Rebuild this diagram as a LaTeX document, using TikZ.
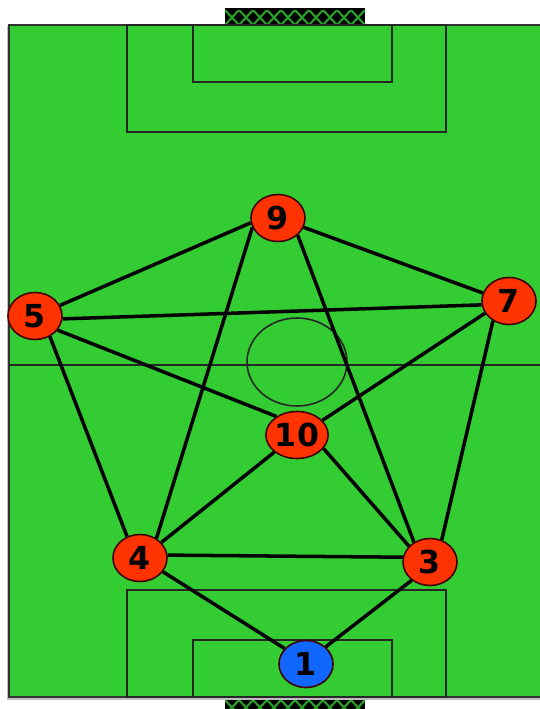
\documentclass[tikz,border=0pt]{standalone}
\usepackage{fontspec}
\newfontfamily\numfont{DejaVu Sans}
\usetikzlibrary{shapes.geometric}
\definecolor{pitch}{RGB}{51,204,51}
\definecolor{redp}{RGB}{255,51,0}
\definecolor{bluep}{RGB}{17,102,255}
\definecolor{netgreen}{RGB}{40,160,40}
\tikzset{
  player/.style={ellipse, draw=black!75!red, line width=0.45pt, inner sep=0pt,
    minimum width=0.54cm, minimum height=0.47cm,
    font=\numfont\bfseries\fontsize{9}{10}\selectfont},
  redplayer/.style={player, fill=redp},
  blueplayer/.style={player, fill=bluep},
  link/.style={line width=1pt, black},
  fieldline/.style={line width=0.45pt, black!85},
  netline/.style={line width=0.6pt, netgreen}
}
\begin{document}
\begin{tikzpicture}[x=0.01cm, y=-0.01cm]
\useasboundingbox (0,0) rectangle (539,709);
\fill[white] (0,0) rectangle (539,709);
% goals
\fill[black] (225,8) rectangle (365,25);
\begin{scope}
\clip (225,10) rectangle (365,25);
\foreach \i in {0,...,10}{
  \draw[netline] ({225+14*\i},10) -- ++(14,15);
  \draw[netline] ({239+14*\i},10) -- ++(-14,15);
}
\end{scope}
\fill[black] (225,697) rectangle (365,709);
\begin{scope}
\clip (225,697) rectangle (365,709);
\foreach \i in {0,...,10}{
  \draw[netline] ({225+14*\i},700) -- ++(14,15);
  \draw[netline] ({239+14*\i},700) -- ++(-14,15);
}
\end{scope}
% pitch
\draw[gray!50, line width=0.8pt] (8,26) -- (8,699) -- (545,699);
\fill[pitch] (9,25) rectangle (545,697);
\draw[black!80, line width=0.6pt] (545,25) -- (9,25) -- (9,697) -- (545,697);
\draw[fieldline] (127,25) rectangle (446,132);
\draw[fieldline] (193,25) rectangle (392,82);
\draw[fieldline] (127,697) rectangle (446,590);
\draw[fieldline] (193,697) rectangle (392,640);
\draw[fieldline] (9,365) -- (545,365);
\draw[fieldline] (297,362) ellipse [x radius=50, y radius=44];
% players
\node[redplayer] (p9) at (278,218) {9};
\node[redplayer] (p5) at (35,316) {5};
\node[redplayer] (p7) at (509,301) {7};
\node[redplayer] (p10) at (297,435) {10};
\node[redplayer] (p4) at (140,558) {4};
\node[redplayer] (p3) at (430,562) {3};
\node[blueplayer] (p1) at (306,664) {1};
% links
\draw[link] (p5.23) -- (p9.190);
\draw[link] (p5.-6) -- (p7.188);
\draw[link] (p5.-32) -- (p10.138);
\draw[link] (p5.-54) -- (p4.121);
\draw[link] (p9.-20) -- (p7.163);
\draw[link] (p9.200) -- (p4.50);
\draw[link] (p9.-41) -- (p3.129);
\draw[link] (p7.207) -- (p10.30);
\draw[link] (p7.231) -- (p3.62);
\draw[link] (p10.217) -- (p4.36);
\draw[link] (p10.-27) -- (p3.143);
\draw[link] (p4.6) -- (p3.170);
\draw[link] (p4.-31) -- (p1.144);
\draw[link] (p3.225) -- (p1.41);
\end{tikzpicture}
\end{document}
